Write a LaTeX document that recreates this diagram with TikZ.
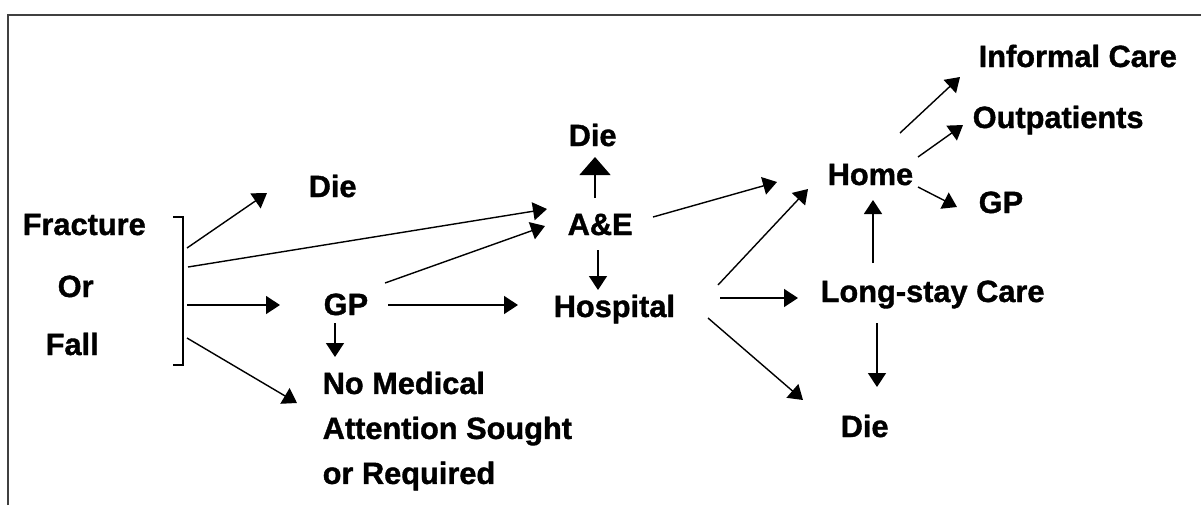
\documentclass[tikz,border=0pt]{standalone}
\usepackage{fontspec}
\setmainfont{Liberation Sans}[BoldFeatures={FakeBold=1.2}]
\usetikzlibrary{arrows.meta}

\begin{document}
\begin{tikzpicture}[x=0.02cm,y=-0.02cm,->,>={Triangle[length=0.28cm,width=0.36cm]},thick,
    txt node/.style={inner sep=0pt,anchor=base west,font=\bfseries\fontsize{17.5}{25.6}\selectfont},
    wide tip/.style={-{Triangle[length=0.36cm,width=0.62cm]}}]
    \useasboundingbox (0,0) rectangle (1201,505);
    \fill[white] (0,0) rectangle (1201,505);
    \draw[-,line width=0.035cm,black!75] (8,505) -- (8,15) -- (1201,15);

    % left side
    \node[txt node] (fr) at (22,235) {Fracture};
    \node[txt node] (or) at (57,297) {Or};
    \node[txt node] (fall) at (45,355) {Fall};
    \coordinate (br) at (183,217);
    \draw[-] (173,217) -| (183,365) -- (173,365);

    \node[txt node] (die1) at (308,197) {Die};
    \node[txt node] (gp1) at (323,315) {GP};
    \node[txt node,anchor=north west,align=left] (nm) at (322,371) {No Medical\\Attention Sought\\or Required};

    % middle
    \node[txt node] (ae) at (567,235) {A\&E};
    \node[txt node] (die2) at (568,146) {Die};
    \node[txt node] (hosp) at (553,317) {Hospital};

    % right side
    \node[txt node] (home) at (827,185) {Home};
    \node[txt node] (ls) at (820,302) {Long-stay Care};
    \node[txt node] (die3) at (840,437) {Die};
    \node[txt node] (ic) at (978,67) {Informal Care};
    \node[txt node] (out) at (972,128) {Outpatients};
    \node[txt node] (gp2) at (978,213) {GP};

    \draw ([shift={(4,31)}]br) -- ([shift={(-41,-4)}]die1.base west);
    \draw ([shift={(5,50)}]br) -- ([shift={(-20,-26)}]ae.base west);
    \draw ([shift={(4,88)}]br) -- ([shift={(-43,-10)}]gp1.base west);
    \draw ([shift={(4,121)}]br) -- ([shift={(-25,32)}]nm.north west);

    \draw ([shift={(12,8)}]gp1.base west) -- ([shift={(13,-14)}]nm.north west);
    \draw ([shift={(65,-10)}]gp1.base west) -- ([shift={(-35,-12)}]hosp.base west);
    \draw ([shift={(62,-32)}]gp1.base west) -- ([shift={(-22,-9)}]ae.base west);

    \draw[wide tip] ([shift={(28,-37)}]ae.base west) -- ([shift={(27,11)}]die2.base west);
    \draw ([shift={(31,15)}]ae.base west) -- ([shift={(45,-27)}]hosp.base west);
    \draw ([shift={(86,-18)}]ae.base west) -- ([shift={(-50,-3)}]home.base west);

    \draw ([shift={(165,-32)}]hosp.base west) -- ([shift={(-19,4)}]home.base west);
    \draw ([shift={(167,-19)}]hosp.base west) -- ([shift={(-22,-4)}]ls.base west);
    \draw ([shift={(155,1)}]hosp.base west) -- ([shift={(-37,-37)}]die3.base west);

    \draw ([shift={(53,-39)}]ls.base west) -- ([shift={(46,15)}]home.base west);
    \draw ([shift={(57,21)}]ls.base west) -- ([shift={(37,-50)}]die3.base west);

    \draw ([shift={(73,-52)}]home.base west) -- ([shift={(-18,10)}]ic.base west);
    \draw ([shift={(91,-28)}]home.base west) -- ([shift={(-9,-3)}]out.base west);
    \draw ([shift={(91,2)}]home.base west) -- ([shift={(-21,-6)}]gp2.base west);
\end{tikzpicture}
\end{document}
